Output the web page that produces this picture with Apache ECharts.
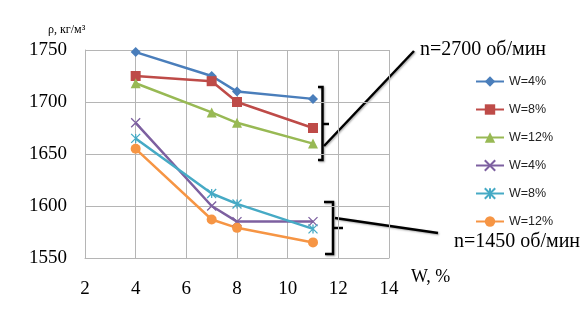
<!DOCTYPE html>
<html>
<head>
<meta charset="utf-8">
<script src="https://cdn.jsdelivr.net/npm/echarts@6/dist/echarts.min.js"></script>
<style>
  html, body { margin: 0; padding: 0; background: #fff; }
  #chart { width: 584px; height: 325px; }
</style>
</head>
<body>
<div id="chart"></div>
<script>
// влажность, %
var wValues = [4, 7, 8, 11];
// плотность, кг/м3 при n=2700 об/мин
var rho2700w4 = [1748, 1725, 1710, 1703];
var rho2700w8 = [1725, 1720, 1700, 1675];
var rho2700w12 = [1718, 1690, 1680, 1660];
// плотность, кг/м3 при n=1450 об/мин
var rho1450w4 = [1680, 1600, 1585, 1585];
var rho1450w8 = [1665, 1612, 1602, 1578];
var rho1450w12 = [1655, 1587, 1579, 1565];

var legendLabels = ['W=4%', 'W=8%', 'W=12%', 'W=4%', 'W=8%', 'W=12%'];
var xTicks = [2, 4, 6, 8, 10, 12, 14];
var yTicks = [1550, 1600, 1650, 1700, 1750];

var xMark = 'path://M0,0L10,10M10,0L0,10';
var starMark = 'path://M0,0L10,10M10,0L0,10M5,0L5,10';

function pairs(ys) {
    return wValues.map(function (x, i) { return [x, ys[i]]; });
}

function makeSeries(id, ys, color, symbol, size, stroke) {
    return {
        name: id,
        type: 'line',
        data: pairs(ys),
        symbol: symbol,
        symbolSize: size,
        showAllSymbol: true,
        lineStyle: { color: color, width: 2.5 },
        itemStyle: { color: color, borderColor: color, borderWidth: stroke ? 1.3 : 0 },
        emphasis: { disabled: true },
        z: 3
    };
}

var myChart = echarts.init(document.getElementById('chart'));
var serif = '"Liberation Serif", "DejaVu Serif", serif';
var gridColor = '#b5b5b5';

var seriesList = [
    makeSeries('s0', rho2700w4, '#4A7EBB', 'diamond', 10, false),
    makeSeries('s1', rho2700w8, '#BE4B48', 'rect', 10, false),
    makeSeries('s2', rho2700w12, '#98B954', 'triangle', 10, false),
    makeSeries('s3', rho1450w4, '#7D60A0', xMark, 9, true),
    makeSeries('s4', rho1450w8, '#46AAC5', starMark, 9, true),
    makeSeries('s5', rho1450w12, '#F69544', 'circle', 10, false)
];

var option = {
    animation: false,
    grid: { left: 85, top: 50, width: 304, height: 208 },
    xAxis: {
        type: 'value',
        min: xTicks[0],
        max: xTicks[xTicks.length - 1],
        interval: 2,
        axisLine: { lineStyle: { color: gridColor, width: 1 } },
        axisTick: { show: false },
        splitLine: { lineStyle: { color: gridColor, width: 1 } },
        axisLabel: { color: '#000', fontFamily: serif, fontSize: 19, margin: 22 }
    },
    yAxis: {
        type: 'value',
        min: yTicks[0],
        max: yTicks[yTicks.length - 1],
        interval: 50,
        axisLine: { show: true, lineStyle: { color: gridColor, width: 1 } },
        axisTick: { show: false },
        splitLine: { lineStyle: { color: gridColor, width: 1 } },
        axisLabel: {
            color: '#000', fontFamily: serif, fontSize: 19, margin: 18,
            formatter: function (v) { return String(v); }
        }
    },
    legend: {
        orient: 'vertical',
        left: 475,
        top: 75,
        padding: 0,
        itemWidth: 28,
        itemHeight: 13,
        itemGap: 15,
        data: ['s0', 's1', 's2', 's3', 's4', 's5'],
        formatter: function (name) {
            return legendLabels[+name.slice(1)];
        },
        textStyle: { color: '#222', fontFamily: '"Liberation Sans", Arial, sans-serif', fontSize: 12.5 }
    },
    series: seriesList,
    graphic: [
        // подписи осей
        { type: 'text', left: 48, top: 24,
          style: { text: 'ρ, кг/м³', font: '12px ' + serif, fill: '#000' } },
        { type: 'text', left: 411, top: 268,
          style: { text: 'W, %', font: '18px ' + serif, fill: '#000' } },
        // n=2700
        { type: 'polyline', shape: { points: [[318, 87], [322.5, 87], [322.5, 160], [318, 160]] },
          style: { stroke: '#000', lineWidth: 2.5, fill: null, shadowColor: 'rgba(0,0,0,0.35)', shadowOffsetX: 1, shadowOffsetY: 1, shadowBlur: 2 } },
        { type: 'line', shape: { x1: 322.5, y1: 124, x2: 329, y2: 124 },
          style: { stroke: '#000', lineWidth: 2.5 } },
        { type: 'line', shape: { x1: 324, y1: 146, x2: 414, y2: 51 },
          style: { stroke: '#000', lineWidth: 2.5, shadowColor: 'rgba(0,0,0,0.35)', shadowOffsetX: 1, shadowOffsetY: 1, shadowBlur: 2 } },
        { type: 'text', left: 420, top: 40,
          style: { text: 'n=2700 об/мин', font: '20px ' + serif, fill: '#000' } },
        // n=1450
        { type: 'polyline', shape: { points: [[324, 202], [333, 202], [333, 254], [325, 254]] },
          style: { stroke: '#000', lineWidth: 2.5, fill: null, shadowColor: 'rgba(0,0,0,0.35)', shadowOffsetX: 1, shadowOffsetY: 1, shadowBlur: 2 } },
        { type: 'line', shape: { x1: 333, y1: 228, x2: 343, y2: 228 },
          style: { stroke: '#000', lineWidth: 2.5 } },
        { type: 'line', shape: { x1: 335, y1: 218, x2: 438, y2: 233 },
          style: { stroke: '#000', lineWidth: 2.5, shadowColor: 'rgba(0,0,0,0.35)', shadowOffsetX: 1, shadowOffsetY: 1, shadowBlur: 2 } },
        { type: 'text', left: 454, top: 232,
          style: { text: 'n=1450 об/мин', font: '20px ' + serif, fill: '#000' } }
    ]
};
myChart.setOption(option, true);
window.addEventListener('resize', function () {
    myChart.resize();
});
</script>
</body>
</html>
